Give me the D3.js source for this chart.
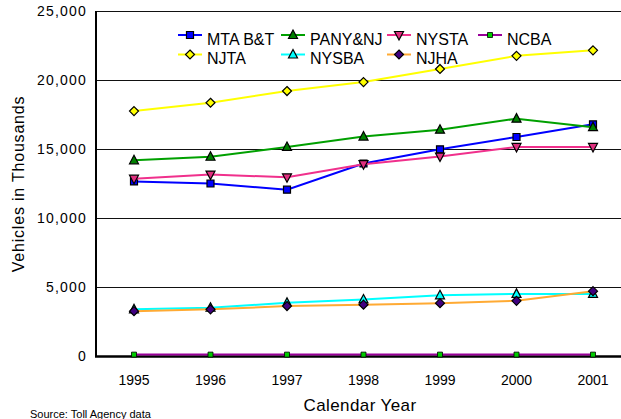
<!DOCTYPE html>
<html>
<head>
<meta charset="utf-8">
<script src="https://cdn.jsdelivr.net/npm/d3@7"></script>
<style>
  body { margin: 0; background: #fff; }
  text { font-family: "Liberation Sans", Arial, sans-serif; fill: #000; }
</style>
</head>
<body>
<script>
// data (thousands of vehicles)
var years = ["1995", "1996", "1997", "1998", "1999", "2000", "2001"];
var mtaBT  = [12650, 12500, 12050, 13950, 14980, 15870, 16790];
var panynj = [14180, 14440, 15150, 15900, 16400, 17200, 16580];
var nysta  = [12850, 13150, 12950, 13900, 14450, 15150, 15150];
var ncba   = [100, 100, 100, 100, 100, 100, 100];
var njta   = [17750, 18350, 19200, 19850, 20800, 21750, 22150];
var nysba  = [3380, 3500, 3850, 4100, 4400, 4500, 4500];
var njha   = [3250, 3380, 3620, 3720, 3830, 4000, 4700];
var yTicks = [0, 5000, 10000, 15000, 20000, 25000];

var W = 621, H = 419;
var plotLeft = 96, plotRight = 621, plotTop = 11, plotBottom = 356;

var svg = d3.select("body").append("svg").attr("width", W).attr("height", H);

var x = d3.scalePoint().domain(years).range([134, 593]);
var y = d3.scaleLinear().domain([0, 25000]).range([plotBottom, plotTop]);

// marker shapes
function marker(kind) {
  if (kind == "square") return "M-3.5,-3.5H3.5V3.5H-3.5Z";
  if (kind == "up") return "M0,-5L4.5,3.5H-4.5Z";
  if (kind == "down") return "M0,5L4.5,-3.5H-4.5Z";
  if (kind == "diamond") return "M0,-4.5L4.5,0L0,4.5L-4.5,0Z";
  return "M-2.5,-2.5H2.5V2.5H-2.5Z";
}

var series = [
  {name: "MTA B&T", values: mtaBT,  line: "#0000ff", fill: "#0000ff", kind: "square"},
  {name: "PANY&NJ", values: panynj, line: "#00a000", fill: "#008000", kind: "up"},
  {name: "NYSTA",   values: nysta,  line: "#f0308c", fill: "#e0307f", kind: "down"},
  {name: "NCBA",    values: ncba,   line: "#990099", fill: "#00cc00", kind: "small"},
  {name: "NJTA",    values: njta,   line: "#ffff00", fill: "#ffff00", kind: "diamond"},
  {name: "NYSBA",   values: nysba,  line: "#00ffff", fill: "#00ffff", kind: "up"},
  {name: "NJHA",    values: njha,   line: "#ffaa33", fill: "#400080", kind: "diamond"}
];

// gridlines
svg.append("g").selectAll("line")
   .data(yTicks.filter(function (d) { return d > 0; }))
   .enter().append("line")
   .attr("x1", plotLeft).attr("x2", plotRight)
   .attr("y1", function (d) { return Math.round(y(d)) + 0.5; })
   .attr("y2", function (d) { return Math.round(y(d)) + 0.5; })
   .attr("stroke", "#111").attr("stroke-width", 1);

// y tick labels
svg.append("g").selectAll("text")
   .data(yTicks).enter().append("text")
   .attr("x", 87).attr("y", function (d) { return y(d); })
   .attr("dy", "0.35em")
   .attr("text-anchor", "end")
   .attr("font-size", 14)
   .attr("letter-spacing", 1.2)
   .text(d3.format(","));

// axes
svg.append("line").attr("x1", plotLeft).attr("x2", plotLeft).attr("y1", plotTop).attr("y2", plotBottom + 1)
   .attr("stroke", "#000").attr("stroke-width", 2);
svg.append("line").attr("x1", plotLeft - 1).attr("x2", plotRight).attr("y1", plotBottom + 0.5).attr("y2", plotBottom + 0.5)
   .attr("stroke", "#000").attr("stroke-width", 2.5);

// x tick labels
svg.append("g").selectAll("text")
   .data(years).enter().append("text")
   .attr("x", function (d) { return x(d); })
   .attr("y", 385)
   .attr("text-anchor", "middle")
   .attr("font-size", 14)
   .text(function (d) { return d; });

// series
var line = d3.line()
  .x(function (d, i) { return x(years[i]); })
  .y(function (d) { return y(d); });

series.forEach(function (s) {
  var g = svg.append("g");
  g.append("path").attr("d", line(s.values))
   .attr("fill", "none").attr("stroke", s.line).attr("stroke-width", 2);
  g.selectAll("path.m").data(s.values).enter().append("path")
   .attr("class", "m")
   .attr("d", marker(s.kind))
   .attr("transform", function (d, i) { return "translate(" + x(years[i]) + "," + y(d) + ")"; })
   .attr("fill", s.fill).attr("stroke", "#000").attr("stroke-width", s.kind == "small" ? 0.8 : 1.2);
});

// legend
var legCols = [178, 281, 387, 478];
var legRows = [35, 54.5];
var leg = svg.append("g").selectAll("g")
   .data(series).enter().append("g")
   .attr("transform", function (d, i) {
     return "translate(" + legCols[i % 4] + "," + legRows[Math.floor(i / 4)] + ")";
   });
leg.append("line").attr("x1", 0).attr("x2", 24).attr("y1", 0).attr("y2", 0)
   .attr("stroke", function (d) { return d.line; }).attr("stroke-width", 2);
leg.append("path").attr("d", function (d) { return marker(d.kind); })
   .attr("transform", "translate(12,0)")
   .attr("fill", function (d) { return d.fill; }).attr("stroke", "#000")
   .attr("stroke-width", function (d) { return d.kind == "small" ? 0.8 : 1.2; });
leg.append("text").attr("x", 29).attr("y", 9.5)
   .attr("font-size", 16)
   .text(function (d) { return d.name; });

// axis titles
svg.append("text")
   .attr("transform", "translate(24,184) rotate(-90)")
   .attr("text-anchor", "middle")
   .attr("font-size", 16)
   .attr("letter-spacing", 0.8)
   .text("Vehicles in Thousands");

svg.append("text")
   .attr("x", 360).attr("y", 411)
   .attr("text-anchor", "middle")
   .attr("font-size", 17)
   .attr("letter-spacing", 0.4)
   .text("Calendar Year");

svg.append("text")
   .attr("x", 30).attr("y", 418)
   .attr("font-size", 11)
   .text("Source: Toll Agency data");
</script>
</body>
</html>
